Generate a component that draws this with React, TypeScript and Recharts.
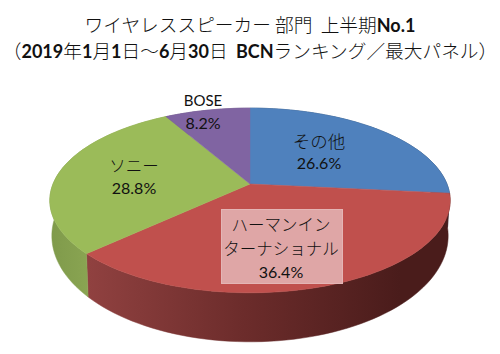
/**
 * App.tsx
 * Tilted 3D-style pie of wireless speaker share, drawn with Recharts sectors.
 */

import React from 'react';
import { PieChart, Pie, Cell } from 'recharts';

const NAMES = ['その他', 'ハーマンインターナショナル', 'ソニー', 'BOSE'];
const SHARES = [26.6, 36.4, 28.8, 8.2];
const LABEL_LINES = [['その他'], ['ハーマンイン', 'ターナショナル'], ['ソニー'], ['BOSE']];
const TOP_COLORS = ['#4f81bd', '#c0504d', '#9bbb59', '#8064a2'];
const WALL_COLORS = ['url(#wallBlue)', 'url(#wallRed)', 'url(#wallGreen)', '#5f4a79'];

const data = NAMES.map((name, i) => ({ name, value: SHARES[i] }));

// layout of the perspective projection
const CX = 250;
const CY = 184;
const RADIUS = 197;
const TILT = 0.454;
const PERSPECTIVE = 0.178;
const BOTTOM_Y = 217;
const BOTTOM_RX = 195;
const BOTTOM_RY = 102.6;
const LABEL_POS = [
  { x: 319, y: 140 },
  { x: 281, y: 224 },
  { x: 134, y: 165 },
  { x: 203, y: 100 },
];
const LABEL_SIZES = [17.5, 16.5, 16.5, 15];
const FONT = 'Lato, "Noto Sans CJK JP", sans-serif';
const JP_FONT = '"Noto Sans CJK JP", sans-serif';

const project = (deg: number, cx: number, cy: number, rx: number, ry: number) => {
  const a = (deg * Math.PI) / 180;
  const u = Math.cos(a);
  const v = -Math.sin(a);
  const d = 1 - PERSPECTIVE * v;
  return [cx + (rx * u) / d, cy + (ry * v) / d];
};

const arcPoints = (start: number, end: number, cx: number, cy: number, rx: number, ry: number) => {
  const steps = Math.max(2, Math.ceil(Math.abs(end - start) / 2));
  const pts: number[][] = [];
  for (let i = 0; i <= steps; i++) {
    pts.push(project(start + ((end - start) * i) / steps, cx, cy, rx, ry));
  }
  return pts;
};

const toPath = (pts: number[][]) =>
  'M' + pts.map((p) => `${p[0].toFixed(2)},${p[1].toFixed(2)}`).join('L') + 'Z';

const TopSector = (props: any) => {
  const { cx, cy, outerRadius, startAngle, endAngle, fill } = props;
  const pts = [[cx, cy], ...arcPoints(startAngle, endAngle, cx, cy, outerRadius, outerRadius * TILT)];
  return <path d={toPath(pts)} fill={fill} stroke={fill} strokeWidth={0.5} />;
};

const WallSector = (props: any) => {
  const { cx, cy, outerRadius, startAngle, endAngle, fill } = props;
  const top = arcPoints(startAngle, endAngle, cx, cy, outerRadius, outerRadius * TILT);
  const bottom = arcPoints(endAngle, startAngle, cx, BOTTOM_Y, BOTTOM_RX, BOTTOM_RY);
  return <path d={toPath([...top, ...bottom])} fill={fill} stroke={fill} strokeWidth={0.5} />;
};

const renderLabel = (props: any) => {
  const { index, value } = props;
  const pos = LABEL_POS[index];
  const lines: string[] = LABEL_LINES[index];
  const isBoxed = index === 1;
  const step = isBoxed ? 23.5 : 22.5;
  return (
    <g key={index}>
      {isBoxed && (
        <rect x={221.5} y={209.5} width={121} height={74} fill="#dfa6a6" stroke="#e4b5b5" />
      )}
      {lines.map((line, i) => (
        <text
          key={i}
          x={pos.x}
          y={pos.y + i * step}
          textAnchor="middle"
          dominantBaseline="central"
          fill="#111"
          fontFamily={index === 3 ? FONT : JP_FONT}
          fontSize={LABEL_SIZES[index]}
          fontWeight={index === 3 ? 400 : 300}
        >
          {line}
        </text>
      ))}
      <text
        x={pos.x}
        y={pos.y + lines.length * step}
        textAnchor="middle"
        dominantBaseline="central"
        fill="#111"
        fontFamily={FONT}
        fontSize={16}
      >
        {`${Number(value).toFixed(1)}%`}
      </text>
    </g>
  );
};

const B: React.FC<{ children: React.ReactNode }> = ({ children }) => (
  <span style={{ fontFamily: FONT, fontWeight: 700, fontSize: 18, lineHeight: 1 }}>{children}</span>
);

export default function App() {
  return (
    <div style={{ position: 'absolute', left: 0, top: 0, width: 500, height: 354, background: '#fff', overflow: 'hidden' }}>
      <div
        style={{
          position: 'absolute',
          left: 0,
          top: 11,
          width: 500,
          textAlign: 'center',
          fontFamily: JP_FONT,
          fontSize: 18.7,
          fontWeight: 300,
          lineHeight: '26px',
          color: '#111',
          whiteSpace: 'nowrap',
        }}
      >
        <div>ワイヤレススピーカー 部門&nbsp;&nbsp;上半期<B>No.1</B></div>
        <div>（<B>2019</B>年<B>1</B>月<B>1</B>日～<B>6</B>月<B>30</B>日&nbsp;&nbsp;<B>BCN</B>ランキング／最大パネル）</div>
      </div>
      <PieChart width={500} height={354} margin={{ top: 0, right: 0, bottom: 0, left: 0 }}>
        <defs>
          <linearGradient id="wallRed" gradientUnits="userSpaceOnUse" x1={88} y1={0} x2={400} y2={0}>
            <stop offset="0" stopColor="#904140" />
            <stop offset="0.5" stopColor="#6c2c2b" />
            <stop offset="1" stopColor="#4a1c1b" />
          </linearGradient>
          <linearGradient id="wallGreen" gradientUnits="userSpaceOnUse" x1={50} y1={0} x2={90} y2={0}>
            <stop offset="0" stopColor="#7f9a4b" />
            <stop offset="1" stopColor="#8aa552" />
          </linearGradient>
          <linearGradient id="wallBlue" gradientUnits="userSpaceOnUse" x1={400} y1={0} x2={450} y2={0}>
            <stop offset="0" stopColor="#2c4a6e" />
            <stop offset="1" stopColor="#2c3a50" />
          </linearGradient>
        </defs>
        <Pie
          data={data}
          dataKey="value"
          cx={CX}
          cy={CY}
          outerRadius={RADIUS}
          startAngle={90}
          endAngle={-270}
          stroke="none"
          shape={WallSector}
          label={false}
          labelLine={false}
          isAnimationActive={false}
        >
          {data.map((d, i) => (
            <Cell key={d.name} fill={WALL_COLORS[i]} />
          ))}
        </Pie>
        <Pie
          data={data}
          dataKey="value"
          cx={CX}
          cy={CY}
          outerRadius={RADIUS}
          startAngle={90}
          endAngle={-270}
          stroke="none"
          shape={TopSector}
          label={renderLabel}
          labelLine={false}
          isAnimationActive={false}
        >
          {data.map((d, i) => (
            <Cell key={d.name} fill={TOP_COLORS[i]} />
          ))}
        </Pie>
      </PieChart>
    </div>
  );
}
